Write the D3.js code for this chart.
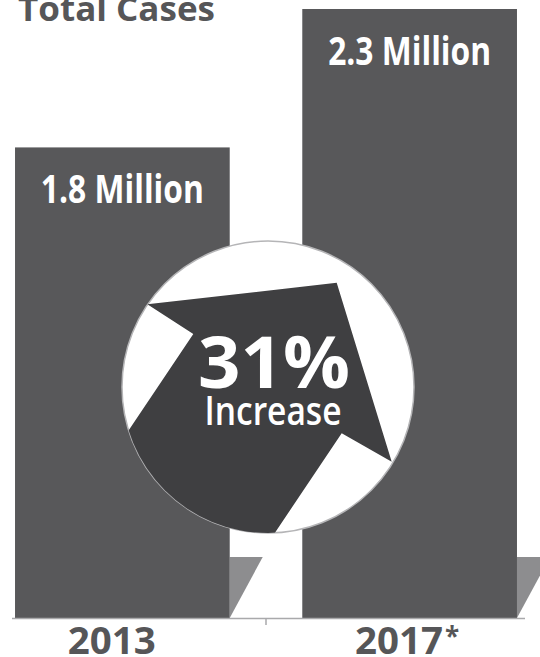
<!DOCTYPE html>
<html>
<head>
<meta charset="utf-8">
<script src="https://cdn.jsdelivr.net/npm/d3@7"></script>
<style>
  body { margin: 0; background: #fff; }
  svg { display: block; font-family: "Open Sans", "DejaVu Sans", sans-serif; }
</style>
</head>
<body>
<div id="chart"></div>
<script>
// chart values
const years = ['2013', '2017'];
const yearNotes = ['', '*'];
const cases = [1.8, 2.3]; // millions
const caseLabels = ['1.8 Million', '2.3 Million'];
const chartTitle = 'Total Cases';
const changeValue = '31%';
const changeLabel = 'Increase';

const width = 540;
const height = 657;
const baseY = 618;

const barColor = '#58585a';
const arrowColor = '#3f3f41';
const shadowColor = '#8d8d8f';
const textGray = '#565658';

const svg = d3.select('#chart').append('svg')
  .attr('width', width)
  .attr('height', height);

const x = d3.scaleBand()
  .domain(years)
  .range([0, 532])
  .paddingInner(0.2526)
  .paddingOuter(0.0523);

const y = d3.scaleLinear()
  .domain([0.1, 2.3])
  .range([baseY, 9]);

const bw = x.bandwidth();

// title, top is cut off in the original
svg.append('text')
  .attr('x', 18)
  .attr('y', 21)
  .attr('font-size', 34)
  .attr('font-weight', 700)
  .attr('fill', textGray)
  .attr('textLength', 197)
  .attr('lengthAdjust', 'spacingAndGlyphs')
  .text(chartTitle);

// little grey wedge at the foot of each bar
svg.selectAll('path.shadow')
  .data(years)
  .enter()
  .append('path')
  .attr('class', 'shadow')
  .attr('fill', shadowColor)
  .attr('d', d => {
    const x0 = x(d) + bw;
    return 'M' + x0 + ',' + (baseY - 61) + 'L' + (x0 + 33) + ',' + (baseY - 61) + 'L' + x0 + ',' + baseY + 'Z';
  });

svg.selectAll('rect.bar')
  .data(cases)
  .enter()
  .append('rect')
  .attr('class', 'bar')
  .attr('x', (d, i) => x(years[i]))
  .attr('y', d => y(d))
  .attr('width', bw)
  .attr('height', d => baseY - y(d))
  .attr('fill', barColor);

svg.selectAll('text.value')
  .data(cases)
  .enter()
  .append('text')
  .attr('class', 'value')
  .attr('x', (d, i) => x(years[i]) + bw / 2)
  .attr('y', d => y(d) + 56)
  .attr('text-anchor', 'middle')
  .attr('font-size', 39)
  .attr('font-weight', 700)
  .attr('fill', '#fff')
  .attr('textLength', 163)
  .attr('lengthAdjust', 'spacingAndGlyphs')
  .text((d, i) => caseLabels[i]);

// baseline and the single tick between the bars
svg.append('line')
  .attr('x1', 12).attr('x2', 525)
  .attr('y1', baseY + 0.5).attr('y2', baseY + 0.5)
  .attr('stroke', '#a9a9ab')
  .attr('stroke-width', 1.5);

const midX = (x(years[0]) + bw + x(years[1])) / 2;
svg.append('line')
  .attr('x1', midX).attr('x2', midX)
  .attr('y1', baseY).attr('y2', baseY + 7)
  .attr('stroke', '#a9a9ab')
  .attr('stroke-width', 1.5);

// year labels
const yearText = svg.selectAll('text.year')
  .data(years)
  .enter()
  .append('text')
  .attr('class', 'year')
  .attr('x', d => x(d) + bw * 0.25 - 1)
  .attr('y', 654)
  .attr('font-size', 37)
  .attr('font-weight', 700)
  .attr('fill', textGray);

yearText.append('tspan')
  .attr('textLength', 88)
  .attr('lengthAdjust', 'spacingAndGlyphs')
  .text(d => d);

yearText.append('tspan')
  .attr('dx', 2)
  .attr('dy', -8)
  .attr('font-size', 26)
  .text((d, i) => yearNotes[i]);

// circle with the increase arrow
const cx = midX + 2;
const cy = 387;
const r = 146;

svg.append('clipPath')
  .attr('id', 'circleClip')
  .append('circle')
  .attr('cx', cx)
  .attr('cy', cy)
  .attr('r', r);

svg.append('circle')
  .attr('cx', cx)
  .attr('cy', cy)
  .attr('r', r)
  .attr('fill', '#fff')
  .attr('stroke', '#b5b5b7')
  .attr('stroke-width', 1.5);

// arrow outline relative to the circle centre
const arrowPts = [
  [68.7, -104.3],   // tip
  [123.7, 74.7],    // right barb
  [73.7, 46.3],     // right notch
  [-33.5, 206],     // shaft, right side
  [-182, 107],      // shaft, left side
  [-74.7, -53],     // left notch
  [-120.7, -82.7]   // left barb
];

svg.append('path')
  .attr('clip-path', 'url(#circleClip)')
  .attr('fill', arrowColor)
  .attr('d', d3.line()(arrowPts.map(p => [cx + p[0], cy + p[1]])) + 'Z');

svg.append('text')
  .attr('x', cx + 6)
  .attr('y', 388)
  .attr('text-anchor', 'middle')
  .attr('font-size', 71)
  .attr('font-weight', 700)
  .attr('fill', '#fff')
  .attr('textLength', 152)
  .attr('lengthAdjust', 'spacingAndGlyphs')
  .text(changeValue);

svg.append('text')
  .attr('x', cx + 5)
  .attr('y', 425)
  .attr('text-anchor', 'middle')
  .attr('font-size', 39)
  .attr('font-weight', 600)
  .attr('fill', '#fff')
  .attr('textLength', 137)
  .attr('lengthAdjust', 'spacingAndGlyphs')
  .text(changeLabel);
</script>
</body>
</html>
